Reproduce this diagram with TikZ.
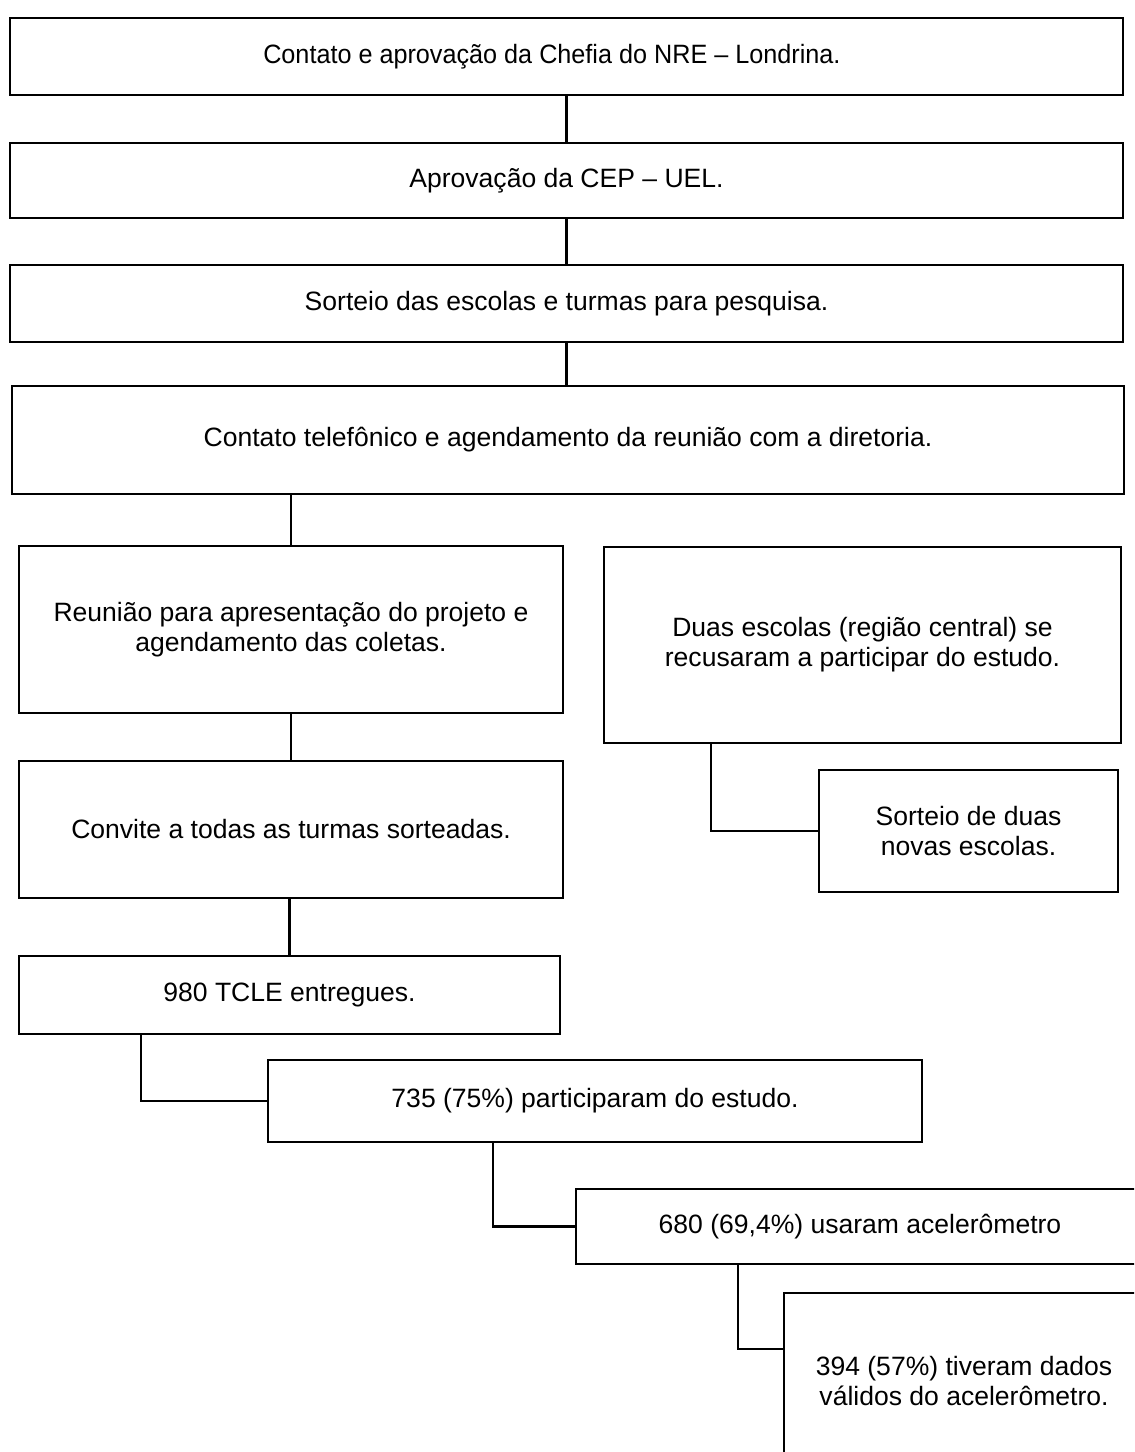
\documentclass[tikz,border=0pt]{standalone}
\usepackage{fontspec}
\setmainfont{Liberation Sans}
\usepackage{graphicx}
\usepackage{tikz}
\tikzset{
stepbox/.style={rectangle, draw, line width=1.1pt, inner sep=0pt, align=center, font=\fontsize{15.1pt}{17pt}\selectfont},
linkstyle/.style={line width=1.2pt}
}
\newcommand{\stepnode}[6]{
  \node [stepbox, minimum width=#4*0.02cm, minimum height=#5*0.02cm] (#1) at (#2,#3) {#6};
}
\begin{document}
\begin{tikzpicture}[x=0.02cm, y=-0.02cm]
\useasboundingbox (0,0) rectangle (1134,1452);
\clip (0,0) rectangle (1134,1452);

\stepnode{b1}{566.5}{56.5}{1113}{77}{\scalebox{0.95}[1]{Contato e aprovação da Chefia do NRE – Londrina.}\hspace{1.1em}}
\stepnode{b2}{566.5}{180.5}{1113}{75}{Aprovação da CEP – UEL.}
\stepnode{b3}{566.5}{303.5}{1113}{77}{Sorteio das escolas e turmas para pesquisa.}
\stepnode{b4}{568}{440}{1112}{108}{Contato telefônico e agendamento da reunião com a diretoria.}
\stepnode{b5}{291}{629.5}{544}{167}{Reunião para apresentação do projeto e\\agendamento das coletas.}
\stepnode{b6}{291}{829.5}{544}{137}{Convite a todas as turmas sorteadas.}
\stepnode{b7}{289.5}{995}{541}{78}{980 TCLE entregues.}
\stepnode{b8}{595}{1101}{654}{82}{735 (75\%) participaram do estudo.}
\stepnode{b9}{860}{1226.5}{568}{75}{680 (69,4\%) usaram acelerômetro}
\stepnode{b10}{964}{1381}{360}{176}{394 (57\%) tiveram dados\\válidos do acelerômetro.}
\stepnode{r1}{862.5}{645}{517}{196}{Duas escolas (região central) se\\recusaram a participar do estudo.}
\stepnode{r2}{968.5}{831}{299}{122}{Sorteio de duas\\novas escolas.}

% elbow starts
\coordinate (e7) at (141,1034);
\coordinate (e8) at (493,1142);
\coordinate (e9) at (738,1264);
\coordinate (er1) at (711,743);

\draw[linkstyle] (b1) -- (b2);
\draw[linkstyle] (b2) -- (b3);
\draw[linkstyle] (b3.south) -- (b4.north -| b3.south);
\draw[linkstyle] (b5.north) -- (b5.north |- b4.south);
\draw[linkstyle] (b5) -- (b6);
\draw[linkstyle] (b7.north) -- (b7.north |- b6.south);
\draw[linkstyle] (e7) |- (b8.west);
\draw[linkstyle] (e8) |- (b9.west);
\draw[linkstyle] (e9) |- ([yshift=0.64cm]b10.west);
\draw[linkstyle] (er1) |- (r2.west);

\end{tikzpicture}
\end{document}
